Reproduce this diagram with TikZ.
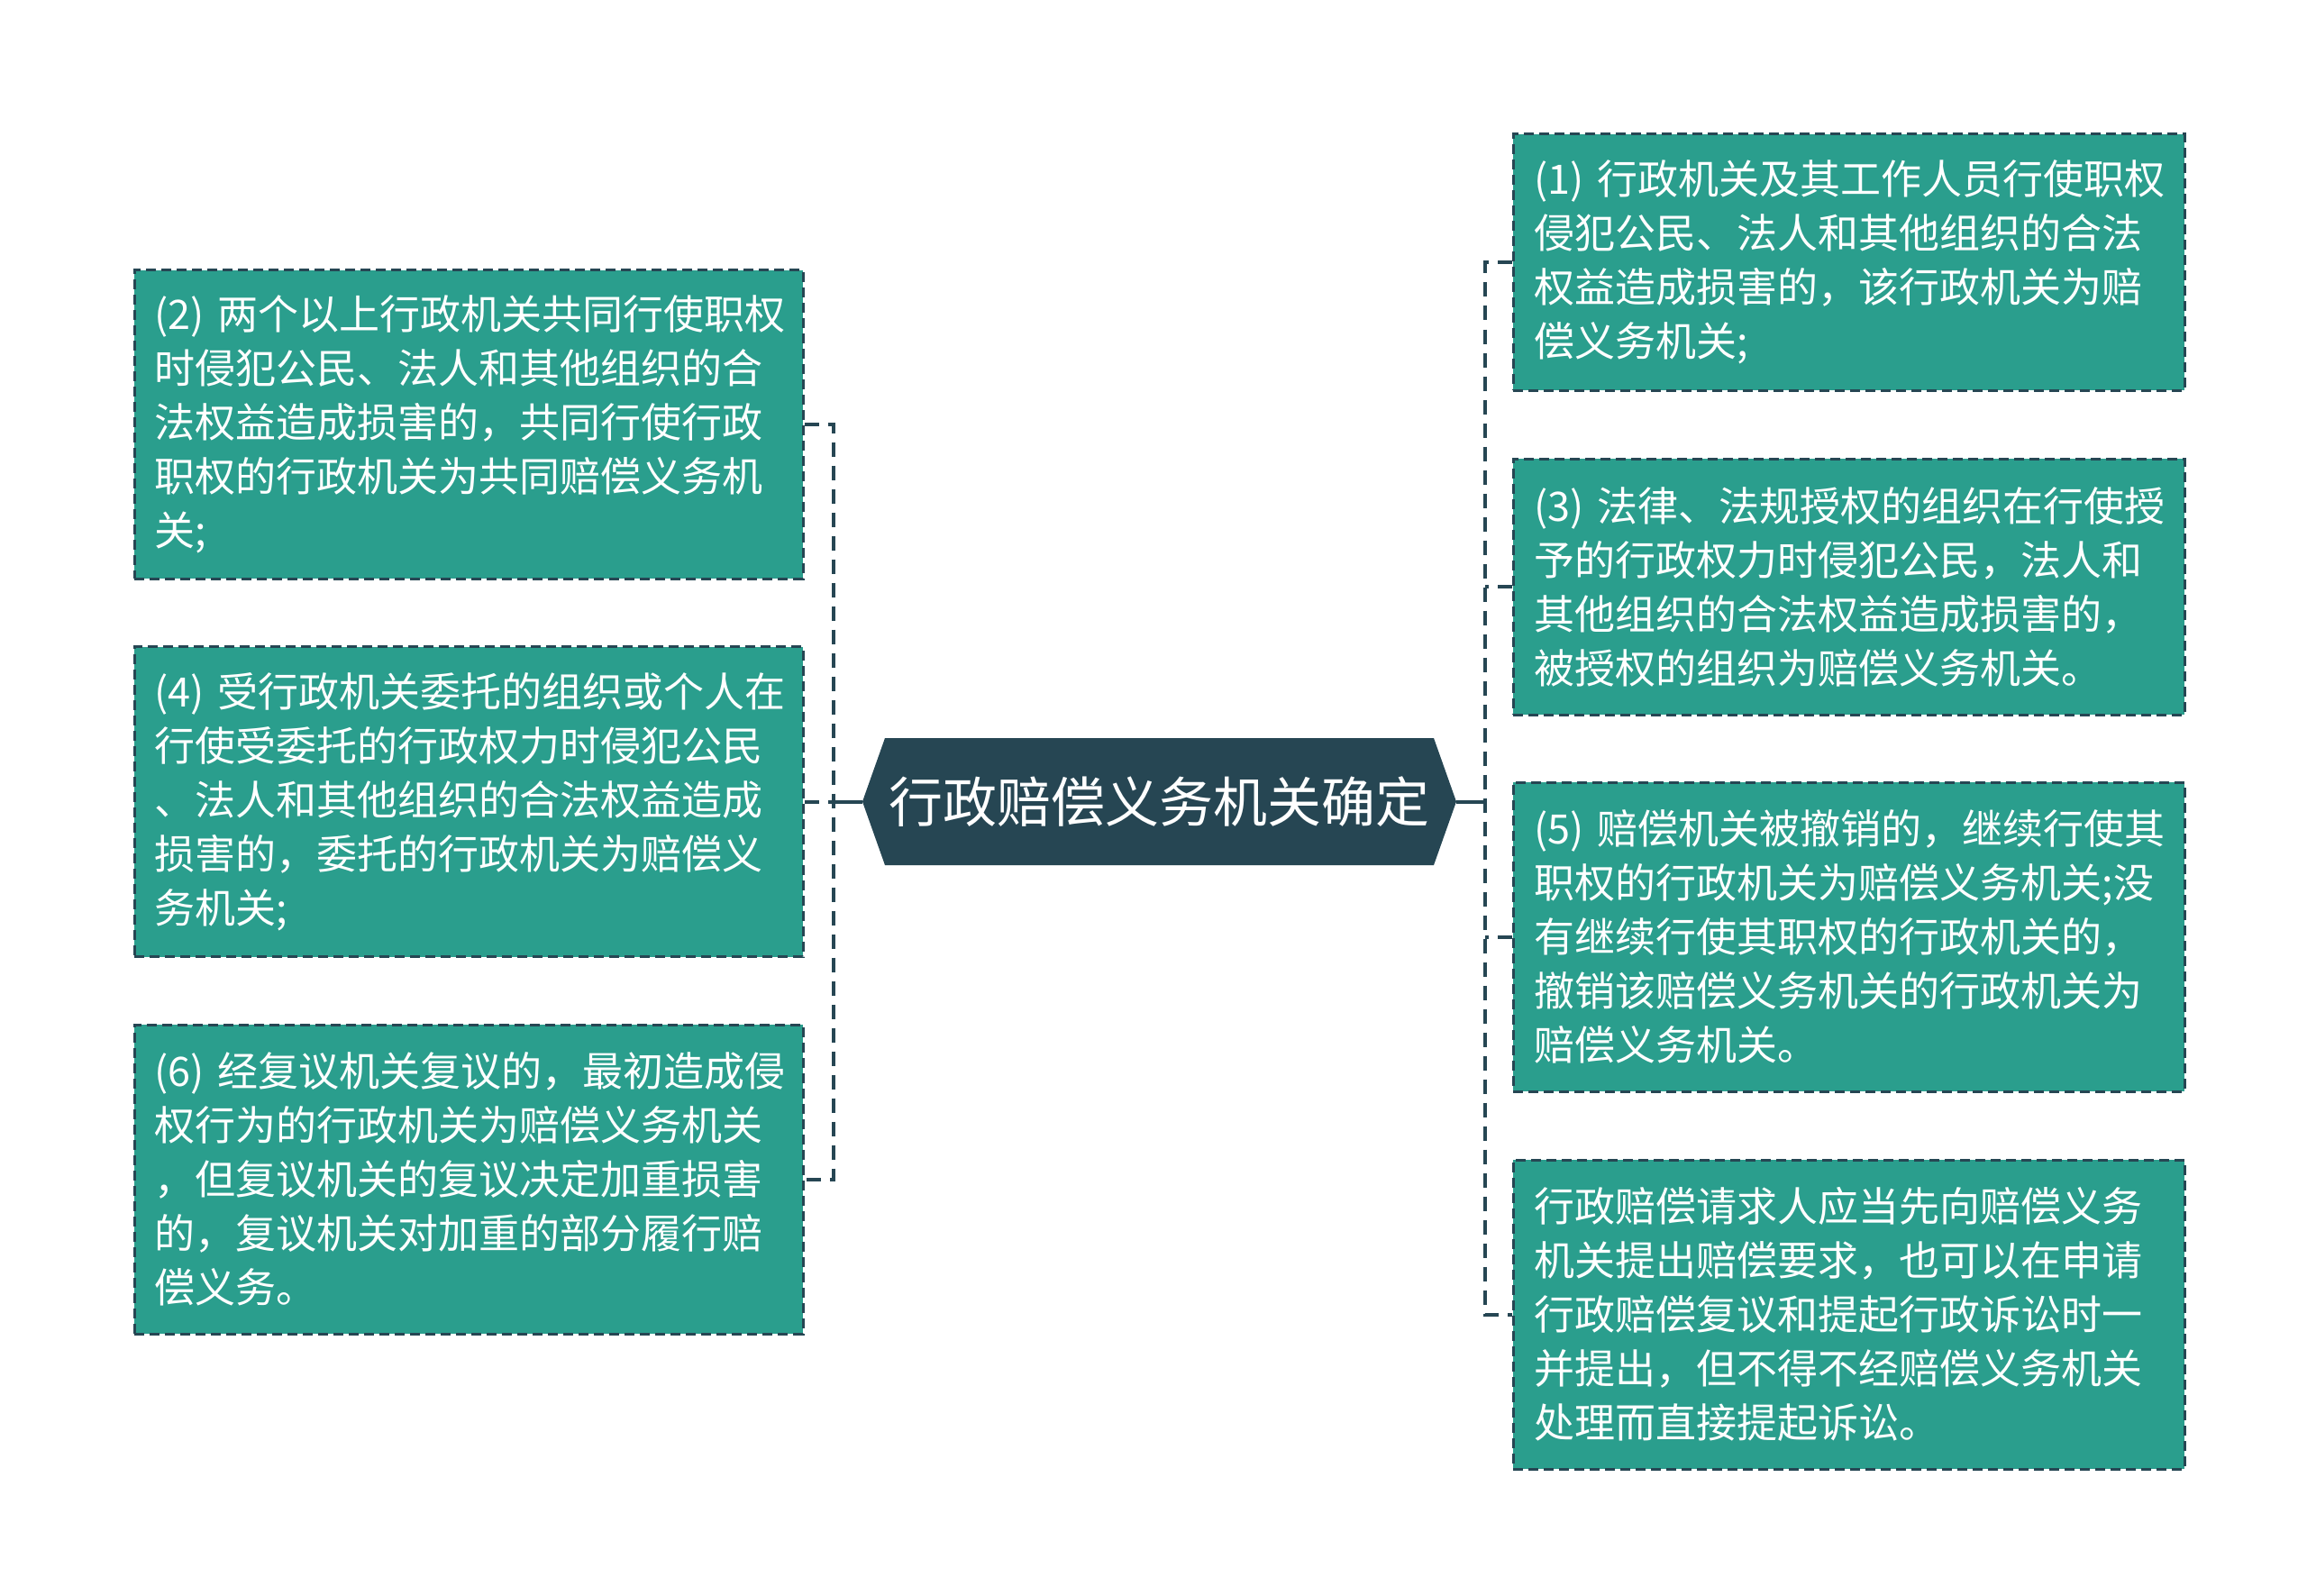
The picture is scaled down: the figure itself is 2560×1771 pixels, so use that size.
\documentclass[tikz,border=0pt]{standalone}
\usepackage{fontspec}
\newfontfamily\cjk{Noto Sans CJK SC}
\usetikzlibrary{calc}
\definecolor{teal}{RGB}{42,158,141}
\definecolor{dark}{RGB}{38,70,83}
\tikzset{
  leaf/.style={rectangle, fill=teal, draw=dark, line width=3pt, dash pattern=on 11pt off 6pt,
    text=white, font={\cjk\fontsize{45}{60}\selectfont}, align=left,
    text width=698pt, inner xsep=22pt, inner ysep=0pt, minimum width=742pt},
  hubnode/.style={text=white, font={\cjk\fontsize{60}{70}\selectfont}, minimum width=659pt, minimum height=141pt, inner sep=0pt},
  solidlink/.style={draw=dark, line width=4pt},
  dashlink/.style={draw=dark, line width=4pt, dash pattern=on 16pt off 10pt}
}
\begin{document}
\begin{tikzpicture}[x=1pt,y=-1pt]
\useasboundingbox (0,0) rectangle (2560,1771);
% hub hexagon
\coordinate (hc) at (1286.5,889.5);
\fill[dark] ($(hc)+(-329.5,0)$) -- ($(hc)+(-304.5,-70.5)$) -- ($(hc)+(304.5,-70.5)$) -- ($(hc)+(329.5,0)$) -- ($(hc)+(304.5,70.5)$) -- ($(hc)+(-304.5,70.5)$) -- cycle;
\node[hubnode] (hub) at (hc) {行政赔偿义务机关确定};
% left boxes
\node[leaf, minimum height=342pt] (b2) at (520,471) {(2) 两个以上行政机关共同行使职权\\时侵犯公民、法人和其他组织的合\\法权益造成损害的，共同行使行政\\职权的行政机关为共同赔偿义务机\\关;};
\node[leaf, minimum height=344pt] (b4) at (520,889.5) {(4) 受行政机关委托的组织或个人在\\行使受委托的行政权力时侵犯公民\\、法人和其他组织的合法权益造成\\损害的，委托的行政机关为赔偿义\\务机关;};
\node[leaf, minimum height=343pt] (b6) at (520,1308.5) {(6) 经复议机关复议的，最初造成侵\\权行为的行政机关为赔偿义务机关\\，但复议机关的复议决定加重损害\\的，复议机关对加重的部分履行赔\\偿义务。};
% right boxes
\node[leaf, minimum width=745pt, minimum height=284pt] (b1) at (2051.5,291) {(1) 行政机关及其工作人员行使职权\\侵犯公民、法人和其他组织的合法\\权益造成损害的，该行政机关为赔\\偿义务机关;};
\node[leaf, minimum width=745pt, minimum height=284pt] (b3) at (2051.5,651) {(3) 法律、法规授权的组织在行使授\\予的行政权力时侵犯公民，法人和\\其他组织的合法权益造成损害的，\\被授权的组织为赔偿义务机关。};
\node[leaf, minimum width=745pt, minimum height=343pt] (b5) at (2051.5,1039.5) {(5) 赔偿机关被撤销的，继续行使其\\职权的行政机关为赔偿义务机关;没\\有继续行使其职权的行政机关的，\\撤销该赔偿义务机关的行政机关为\\赔偿义务机关。};
\node[leaf, minimum width=745pt, minimum height=343pt] (b7) at (2051.5,1458.5) {行政赔偿请求人应当先向赔偿义务\\机关提出赔偿要求，也可以在申请\\行政赔偿复议和提起行政诉讼时一\\并提出，但不得不经赔偿义务机关\\处理而直接提起诉讼。};
% junctions
\coordinate (lj) at (925,889.5);
\coordinate (rj) at (1648,889.5);
% left connectors
\draw[solidlink] (hub.west) -- (lj);
\draw[dashlink] (b2.east) -- (b2.east -| lj) -- (b6.east -| lj) -- (b6.east);
\draw[dashlink] (b4.east) -- (lj);
% right connectors
\draw[solidlink] (hub.east) -- (rj);
\draw[dashlink] (b1.west) -- (b1.west -| rj) -- (b7.west -| rj) -- (b7.west);
\draw[dashlink] (b3.west) -- (b3.west -| rj);
\draw[dashlink] (b5.west) -- (b5.west -| rj);
\end{tikzpicture}
\end{document}
